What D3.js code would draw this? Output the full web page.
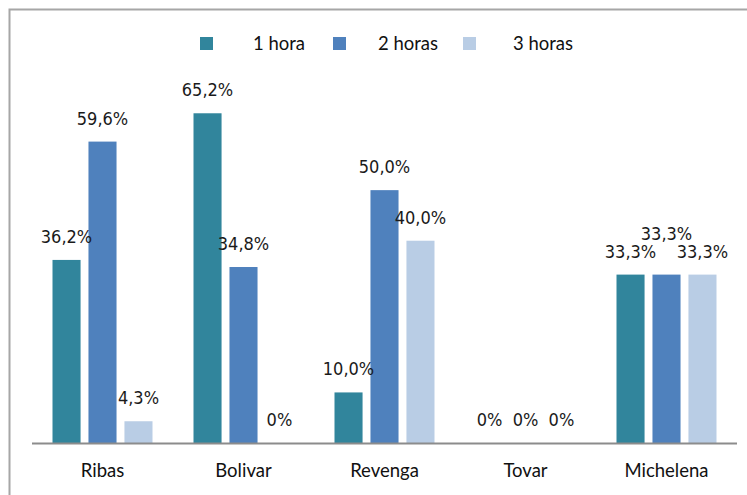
<!DOCTYPE html>
<html>
<head>
<meta charset="utf-8">
<script src="https://cdn.jsdelivr.net/npm/d3@7"></script>
<style>
  body { margin: 0; background: #fff; }
  svg { display: block; }
  .val { font-family: "Liberation Sans Narrow", "DejaVu Sans Condensed", sans-serif; font-size: 18px; fill: #1a1a1a; }
  .cat, .leg { font-family: Lato, "Open Sans", sans-serif; font-size: 18.5px; fill: #111; }
</style>
</head>
<body>
<div id="chart"></div>
<script>
// data
const categories = ["Ribas", "Bolivar", "Revenga", "Tovar", "Michelena"];
const series = ["1 hora", "2 horas", "3 horas"];
const hora1 = [36.2, 65.2, 10.0, 0, 33.3];
const hora2 = [59.6, 34.8, 50.0, 0, 33.3];
const hora3 = [4.3, 0, 40.0, 0, 33.3];
const colors = ["#31859c", "#4f81bd", "#b9cde5"];

const width = 747, height = 495;
const svg = d3.select("#chart").append("svg")
  .attr("width", width).attr("height", height);

// frame (top and left edge only are visible)
svg.append("path")
  .attr("d", `M9.5,${height} V9.5 H${width}`)
  .attr("fill", "none").attr("stroke", "#a6a6a6").attr("stroke-width", 2);

const x0 = d3.scaleBand().domain(categories).range([32, 737]);
const x1 = d3.scaleBand().domain(series).range([-50, 50]).paddingInner(0.22).paddingOuter(0);
const y = d3.scaleLinear().domain([0, 70]).range([443, 89]);

const rows = [];
categories.forEach(function(c, i) {
  [hora1, hora2, hora3].forEach(function(arr, j) {
    rows.push({ cat: c, s: series[j], v: arr[i], j: j, i: i });
  });
});

const g = svg.append("g");
g.selectAll("rect")
  .data(rows.filter(d => d.v > 0))
  .join("rect")
  .attr("x", d => x0(d.cat) + x0.bandwidth() / 2 + x1(d.s))
  .attr("y", d => y(d.v))
  .attr("width", x1.bandwidth())
  .attr("height", d => y(0) - y(d.v))
  .attr("fill", d => colors[d.j]);

// axis line
svg.append("line")
  .attr("x1", x0.range()[0]).attr("x2", x0.range()[1])
  .attr("y1", y(0) + 0.5).attr("y2", y(0) + 0.5)
  .attr("stroke", "#8c8c8c").attr("stroke-width", 2);

// value labels; the middle one is lifted when three equal labels would collide
function lift(d) {
  const vals = [hora1[d.i], hora2[d.i], hora3[d.i]];
  if (d.j == 1 && d.v > 0 && vals[0] == vals[1] && vals[1] == vals[2]) return 18;
  return 0;
}
g.selectAll("text.val")
  .data(rows)
  .join("text")
  .attr("class", "val")
  .attr("text-anchor", "middle")
  .attr("x", d => x0(d.cat) + x0.bandwidth() / 2 + x1(d.s) + x1.bandwidth() / 2)
  .attr("y", d => y(d.v) - 17 - lift(d))
  .text(d => d.v == 0 ? "0%" : d3.format(".1f")(d.v).replace(".", ",") + "%");

// category labels
svg.selectAll("text.cat")
  .data(categories)
  .join("text")
  .attr("class", "cat")
  .attr("text-anchor", "middle")
  .attr("x", d => x0(d) + x0.bandwidth() / 2)
  .attr("y", 477)
  .text(d => d);

// legend
const legX = [200, 333, 463];
const leg = svg.selectAll("g.leg")
  .data(series)
  .join("g")
  .attr("transform", (d, i) => `translate(${legX[i]},37)`);
leg.append("rect").attr("width", 13).attr("height", 13).attr("fill", (d, i) => colors[i]);
leg.append("text").attr("class", "leg")
  .attr("x", (d, i) => i == 0 ? 53 : 45 + (i == 2 ? 5 : 0))
  .attr("y", 13)
  .text(d => d);
</script>
</body>
</html>
